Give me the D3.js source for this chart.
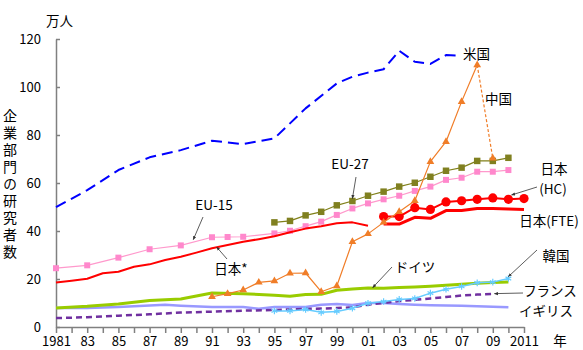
<!DOCTYPE html>
<html>
<head>
<meta charset="utf-8">
<script src="https://cdn.jsdelivr.net/npm/d3@7"></script>
<style>
  body { margin: 0; background: #fff; }
  svg text { font-family: "Noto Sans CJK JP", "Noto Sans", sans-serif; fill: #000; }
</style>
</head>
<body>
<div id="chart"></div>
<script>
// 企業部門の研究者数 (万人)

// 米国
const usYears = [1981, 1983, 1985, 1987, 1989, 1991, 1993, 1995, 1997, 1999, 2000, 2001, 2002, 2003, 2004, 2005, 2006, 2007];
const usValues = [49.9, 57, 65.4, 70.7, 73.7, 77.6, 76.2, 78.6, 91.1, 101.5, 104.3, 106, 107.4, 115.1, 110.5, 109.6, 113.3, 113];

// 中国 (2009 は点線)
const cnYears = [1991, 1992, 1993, 1994, 1995, 1996, 1997, 1998, 1999, 2000, 2001, 2002, 2003, 2004, 2005, 2006, 2007, 2008, 2009];
const cnValues = [12.6, 13.9, 15.4, 18.6, 19.2, 22.4, 22.5, 14.7, 17.1, 35.5, 38.8, 43.6, 48, 52.6, 68.9, 77.2, 93.9, 109.2, 70.3];

// EU-27
const eu27Years = [1995, 1996, 1997, 1998, 1999, 2000, 2001, 2002, 2003, 2004, 2005, 2006, 2007, 2008, 2009, 2010];
const eu27Values = [43.6, 44.2, 46.5, 48, 50.7, 52.5, 54.7, 56.4, 58.5, 60.1, 62.6, 65.1, 66.4, 69.2, 69.2, 70.5];

// EU-15
const eu15Years = [1981, 1983, 1985, 1987, 1989, 1991, 1992, 1993, 1995, 1996, 1997, 1998, 1999, 2000, 2001, 2002, 2003, 2004, 2005, 2006, 2007, 2008, 2009, 2010];
const eu15Values = [24.5, 25.7, 28.9, 32.4, 34, 37.4, 37.5, 37.6, 39, 40.1, 42, 43.9, 46.7, 49.4, 51.5, 53.2, 54.7, 56.7, 58.5, 61.3, 62.2, 64.7, 64.7, 65.4];

// 日本*
const jpOldYears = [1981, 1982, 1983, 1984, 1985, 1986, 1987, 1988, 1989, 1990, 1991, 1992, 1993, 1994, 1995, 1996, 1997, 1998, 1999, 2000, 2001];
const jpOldValues = [18.5, 19.3, 20.1, 22.4, 23, 25.1, 26.1, 27.9, 29.3, 31, 32.8, 34.2, 35.5, 36.6, 37.8, 39.5, 41, 42, 43.2, 43.6, 42.2];

// 日本 (HC) / 日本 (FTE)
const jpYears = [2002, 2003, 2004, 2005, 2006, 2007, 2008, 2009, 2010, 2011];
const jpHcValues = [46, 46, 49.7, 49, 52.1, 52.6, 53.2, 53.8, 53.2, 53.5];
const jpFteValues = [42.9, 42.9, 45.7, 45.3, 48.5, 48.5, 49.4, 49.4, 49.2, 49];

// ドイツ
const deYears = [1981, 1983, 1985, 1987, 1989, 1991, 1993, 1995, 1996, 1997, 1998, 1999, 2000, 2001, 2002, 2003, 2004, 2005, 2006, 2007, 2008, 2009, 2010];
const deValues = [7.9, 8.6, 9.6, 11, 11.7, 14.2, 13.9, 13.2, 12.8, 13.5, 13.6, 15.3, 15.8, 16.2, 16.1, 16.5, 16.7, 17, 17.4, 17.8, 18.2, 18.5, 18.8];

// 韓国
const krYears = [1995, 1996, 1997, 1998, 1999, 2000, 2001, 2002, 2003, 2004, 2005, 2006, 2007, 2008, 2009, 2010];
const krValues = [6.7, 6.7, 7.3, 6.1, 6.5, 7.8, 9.9, 10.6, 11.5, 11.9, 14.1, 15.7, 16.9, 18.4, 18.7, 20.2];

// フランス
const frYears = [1981, 1983, 1985, 1987, 1989, 1991, 1993, 1995, 1997, 1999, 2000, 2001, 2002, 2003, 2004, 2005, 2006, 2007, 2008, 2009];
const frValues = [3.7, 4.1, 4.7, 5.3, 6, 6.4, 6.8, 7.1, 7.5, 7.9, 8.2, 9.3, 10, 10.8, 11.3, 11.9, 12.5, 13.1, 13.5, 13.8];

// イギリス
const ukYears = [1981, 1983, 1985, 1987, 1988, 1989, 1991, 1993, 1994, 1995, 1997, 1998, 1999, 2000, 2001, 2002, 2003, 2004, 2005, 2006, 2007, 2008, 2009, 2010];
const ukValues = [7.9, 7.9, 8.3, 9, 9.3, 8.9, 8.3, 8.3, 7.6, 8.3, 8.3, 9.3, 9.6, 9.2, 10, 10, 9.6, 9.3, 9.1, 9, 8.9, 8.6, 8.4, 8.2];

// 目盛り
const xTickYears = [1981, 1982, 1983, 1984, 1985, 1986, 1987, 1988, 1989, 1990, 1991, 1992, 1993, 1994, 1995, 1996,
                    1997, 1998, 1999, 2000, 2001, 2002, 2003, 2004, 2005, 2006, 2007, 2008, 2009, 2010, 2011];
const xLabelYears = [1981, 1983, 1985, 1987, 1989, 1991, 1993, 1995, 1997, 1999, 2001, 2003, 2005, 2007, 2009, 2011];
const xLabels = ["1981", "83", "85", "87", "89", "91", "93", "95", "97", "99", "01", "03", "05", "07", "09", "2011"];
const yTicks = [0, 20, 40, 60, 80, 100, 120];

const W = 583, H = 350;

const svg = d3.select("#chart").append("svg")
    .attr("width", W)
    .attr("height", H);

const x = d3.scaleLinear().domain([1981, 2011]).range([56, 524]);
const y = d3.scaleLinear().domain([0, 120]).range([327, 39]);

const zip = (ys, vs) => ys.map((yr, i) => ({yr: yr, v: vs[i]}));

const line = d3.line()
    .x(d => x(d.yr))
    .y(d => y(d.v));

// 矢印
svg.append("defs").append("marker")
    .attr("id", "arrow")
    .attr("viewBox", "0 0 10 10")
    .attr("refX", 9).attr("refY", 5)
    .attr("markerWidth", 5).attr("markerHeight", 5)
    .attr("orient", "auto")
    .append("path")
    .attr("d", "M0,1 L10,5 L0,9 z")
    .style("fill", "#333");

// 軸
const yAxis = svg.append("g")
    .attr("transform", `translate(${x(1981)},0)`)
    .call(d3.axisLeft(y).tickValues(yTicks).tickSizeInner(-4).tickSizeOuter(0).tickPadding(15));
yAxis.selectAll("text").style("font-size", "13px");

const xAxis = svg.append("g")
    .attr("transform", `translate(0,${y(0)})`)
    .call(d3.axisBottom(x).tickValues(xTickYears).tickSizeInner(6).tickSizeOuter(0).tickPadding(4)
        .tickFormat(d => {
            const i = xLabelYears.indexOf(d);
            return i >= 0 ? xLabels[i] : "";
        }));
xAxis.selectAll("text").style("font-size", "13px");

svg.selectAll(".domain, .tick line")
    .style("stroke", "#808080")
    .style("stroke-width", 1.5);

// 系列の線
function drawLine(data, color, width, dash) {
    svg.append("path")
        .datum(data)
        .attr("d", line)
        .style("fill", "none")
        .style("stroke", color)
        .style("stroke-width", width)
        .style("stroke-dasharray", dash || null)
        .style("stroke-linejoin", "round");
}

function drawSymbols(data, symbolType, size, fill, stroke) {
    svg.selectAll(null)
        .data(data)
        .enter()
        .append("path")
        .attr("transform", d => `translate(${x(d.yr)},${y(d.v)})`)
        .attr("d", d3.symbol().type(symbolType).size(size))
        .style("fill", fill)
        .style("stroke", stroke || "none")
        .style("stroke-width", 1.2);
}

const us = zip(usYears, usValues);
const cn = zip(cnYears, cnValues);
const eu27 = zip(eu27Years, eu27Values);
const eu15 = zip(eu15Years, eu15Values);
const jpOld = zip(jpOldYears, jpOldValues);
const jpHc = zip(jpYears, jpHcValues);
const jpFte = zip(jpYears, jpFteValues);
const de = zip(deYears, deValues);
const kr = zip(krYears, krValues);
const fr = zip(frYears, frValues);
const uk = zip(ukYears, ukValues);

drawLine(uk, "#9999ff", 2.5);
drawLine(de, "#99cc00", 3);
drawLine(fr, "#7030a0", 2.5, "6,4");
drawLine(kr, "#66ccff", 1.5);
drawSymbols(kr, d3.symbolAsterisk, 30, "none", "#66ccff");

drawLine(eu15, "#ff99cc", 1.2);
drawSymbols(eu15, d3.symbolSquare, 36, "#ff88cc");
drawLine(eu27, "#80801a", 1.2);
drawSymbols(eu27, d3.symbolSquare, 42, "#808020");

drawLine(jpOld, "#ff0000", 2);
drawLine(jpFte, "#ff0000", 3);
drawLine(jpHc, "#ff0000", 2);
svg.selectAll(null)
    .data(jpHc)
    .enter()
    .append("circle")
    .attr("cx", d => x(d.yr))
    .attr("cy", d => y(d.v))
    .attr("r", 4.6)
    .style("fill", "#ff0000");

drawLine(cn.slice(0, cn.length - 1), "#f07d28", 1.2);
drawLine(cn.slice(cn.length - 2), "#f07d28", 1.2, "3,2");
drawSymbols(cn, d3.symbolTriangle, 26, "#f07d28");

drawLine(us, "#0000ff", 2, "11,6");

// ラベル
const labels = [
    {text: "米国", px: 476.5, py: 53},
    {text: "中国", px: 498.5, py: 98},
    {text: "EU-27", px: 350, py: 163},
    {text: "EU-15", px: 214, py: 204},
    {text: "日本*", px: 231, py: 268},
    {text: "ドイツ", px: 415, py: 266},
    {text: "韓国", px: 556, py: 255},
    {text: "フランス", px: 550, py: 290},
    {text: "イギリス", px: 546, py: 310},
    {text: "日本", px: 554, py: 168},
    {text: "(HC)", px: 553, py: 188},
    {text: "日本(FTE)", px: 549, py: 220},
    {text: "万人", px: 59.5, py: 20},
    {text: "年", px: 560, py: 340}
];

svg.selectAll(null)
    .data(labels)
    .enter()
    .append("text")
    .attr("x", d => d.px)
    .attr("y", d => d.py)
    .attr("text-anchor", "middle")
    .attr("dominant-baseline", "central")
    .style("font-size", "13.5px")
    .text(d => d.text);

// 指示線 (始点はラベル側、終点は系列上の年・値)
const pointers = [
    {px: 356, py: 177, yr: 2000, v: 53.5},
    {px: 203, py: 217, yr: 1989.8, v: 36.4},
    {px: 227, py: 259, yr: 1991.3, v: 33.3},
    {px: 392, py: 267, yr: 2001.3, v: 16.4},
    {px: 537, py: 250, yr: 2010, v: 21},
    {px: 523, py: 293, yr: 2009.1, v: 13.9},
    {px: 537, py: 187, yr: 2010.2, v: 55}
];

svg.selectAll(null)
    .data(pointers)
    .enter()
    .append("line")
    .attr("x1", d => d.px)
    .attr("y1", d => d.py)
    .attr("x2", d => x(d.yr))
    .attr("y2", d => y(d.v))
    .style("stroke", "#333")
    .style("stroke-width", 0.8)
    .attr("marker-end", "url(#arrow)");

// 縦書きの軸タイトル
svg.append("text")
    .attr("x", 10)
    .attr("y", 109)
    .style("writing-mode", "vertical-rl")
    .style("font-size", "14px")
    .style("letter-spacing", "3px")
    .text("企業部門の研究者数");
</script>
</body>
</html>
